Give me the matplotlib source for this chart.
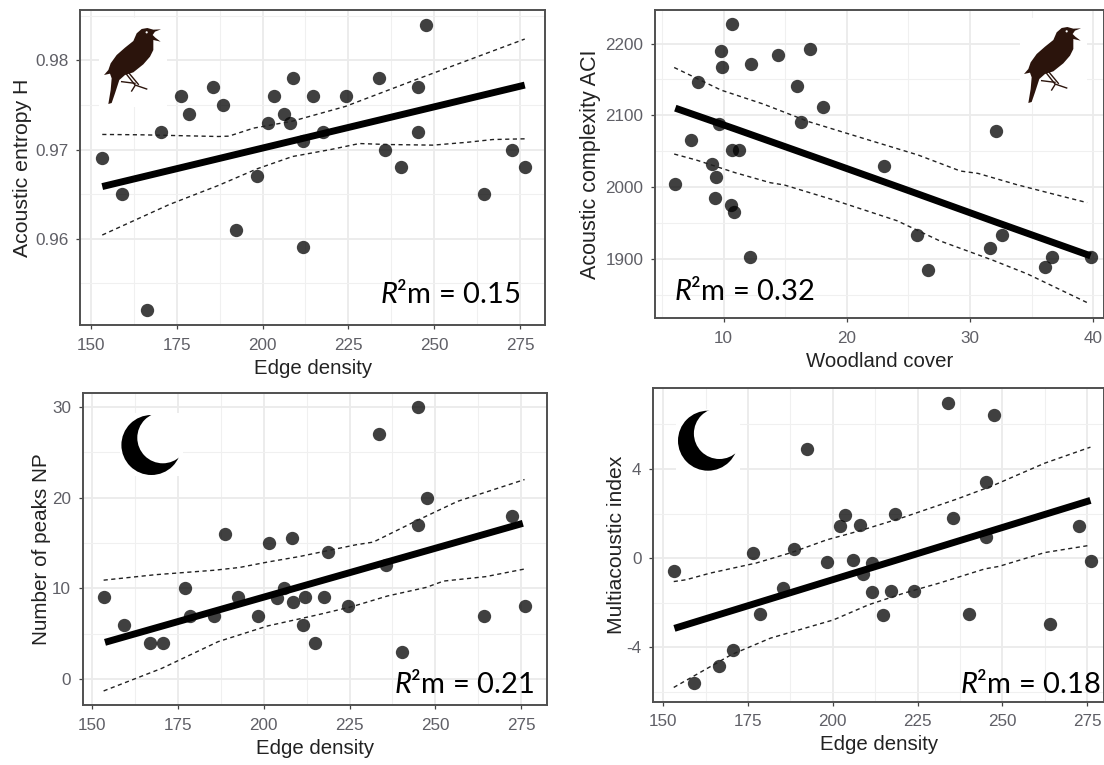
import matplotlib
matplotlib.use("Agg")
from matplotlib import pyplot as plt
from matplotlib.patches import Circle, Polygon, Rectangle
from matplotlib.ticker import FixedLocator

plt.rcParams['font.family'] = ['Liberation Sans', 'DejaVu Sans']
plt.rcParams['mathtext.fontset'] = 'custom'
plt.rcParams['mathtext.it'] = 'Lato:italic'
plt.rcParams['mathtext.rm'] = 'Lato'

W, H = 1104, 765

# panel A: acoustic entropy vs edge density
entropyX = [153.3, 159.1, 166.3, 170.5, 176.3, 178.6, 185.7, 188.6, 192.4, 198.3, 201.6, 203.3, 206.3, 208.0, 208.9,
            211.7, 211.7, 214.6, 217.6, 224.4, 233.9, 235.7, 240.4, 245.3, 245.3, 247.5, 264.4, 272.7, 276.5]
entropyY = [0.969, 0.965, 0.952, 0.972, 0.976, 0.974, 0.977, 0.975, 0.961, 0.967, 0.973, 0.976, 0.974, 0.973, 0.978,
            0.971, 0.959, 0.976, 0.972, 0.976, 0.978, 0.970, 0.968, 0.977, 0.972, 0.984, 0.965, 0.970, 0.968]
entropyFitX = [153.3, 276.4]
entropyFitY = [0.96584, 0.97723]
entropyUpX = [153.3, 164.6, 187.1, 190.2, 197.4, 208.7, 224.1, 244.6, 276.4]
entropyUpY = [0.97169, 0.97165, 0.97146, 0.9715, 0.9724, 0.97318, 0.97483, 0.97783, 0.9824]
entropyLoX = [153.3, 172.8, 187.1, 198.4, 208.7, 219.9, 228.2, 236.4, 249.7, 259.9, 267.1, 276.4]
entropyLoY = [0.9604, 0.96382, 0.96596, 0.96783, 0.96921, 0.97, 0.97067, 0.97056, 0.97049, 0.97082, 0.97112, 0.9712]

# panel B: acoustic complexity vs woodland cover
aciX = [6.06, 7.35, 7.9, 9.09, 9.43, 9.31, 9.6, 9.77, 9.89, 10.6, 10.69, 10.71, 10.83, 11.26, 12.11,
        12.23, 14.42, 15.94, 16.28, 16.99, 18.05, 23.05, 25.73, 26.56, 31.64, 32.12, 32.58, 36.06, 36.63, 39.8]
aciY = [2004, 2065, 2147, 2032, 2014, 1984, 2088, 2190, 2168, 1975, 2052, 2228, 1965, 2052, 1902,
        2172, 2184, 2141, 2091, 2192, 2111, 2030, 1933, 1884, 1915, 2078, 1933, 1888, 1902, 1902]
aciFitX = [6.09, 10.94, 18.08, 24.93, 32.35, 39.77]
aciFitY = [2110, 2081, 2037.5, 1995.5, 1949.5, 1904]
aciUpX = [6.0, 9.8, 13.23, 16.94, 21.79, 25.79, 29.21, 30.64, 33.78, 36.63, 39.49]
aciUpY = [2166.7, 2135.2, 2115.7, 2091, 2065.5, 2044.6, 2022.3, 2019, 2003.3, 1990.7, 1978.2]
aciLoX = [6.0, 7.8, 10.94, 13.8, 14.94, 18.94, 24.07, 27.5, 31.78, 34.64, 39.49]
aciLoY = [2046, 2037.6, 2020, 2006, 2002.8, 1981.9, 1953, 1925.2, 1898.3, 1878.8, 1838.8]

# panel C: number of peaks vs edge density
peaksX = [153.3, 159.3, 166.7, 170.7, 176.9, 178.5, 185.4, 188.6, 192.4, 198.4, 201.6, 203.8, 206.0, 208.1, 208.5,
          211.4, 211.9, 214.8, 217.5, 218.8, 224.4, 233.7, 235.5, 240.3, 245.0, 245.0, 247.6, 264.3, 272.3, 276.0]
peaksY = [9, 6, 4, 4, 10, 7, 7, 16, 9, 7, 15, 8.9, 10, 15.6, 8.5,
          6, 9, 4, 9, 14, 8, 27, 12.6, 3, 30, 17, 20, 7, 18, 8]
peaksFitX = [153.7, 275.5]
peaksFitY = [4.04, 17.17]
peaksUpX = [153.3, 168.3, 185.7, 192.9, 201.1, 210.3, 226.8, 231.9, 244.2, 256.5, 276]
peaksUpY = [10.9, 11.5, 12, 12.3, 12.9, 13.5, 14.8, 15.1, 17.4, 19.6, 22]
peaksLoX = [153.3, 170.3, 186.7, 201.1, 215.5, 225.7, 236, 247.3, 252.4, 264.7, 276]
peaksLoY = [-1.32, 1.18, 4.12, 5.85, 7.06, 7.98, 9.15, 10.1, 10.8, 11.29, 12.13]

# panel D: multiacoustic index vs edge density
multiX = [153.1, 159.1, 166.4, 170.5, 176.5, 178.6, 185.3, 188.6, 192.3, 198.3, 202.0, 203.6, 206.0, 208.0, 208.8,
          211.5, 211.6, 214.8, 217.3, 218.4, 224.1, 233.9, 235.4, 240.2, 245.2, 245.2, 247.6, 264.1, 272.5, 276.1]
multiY = [-0.58, -5.6, -4.83, -4.13, 0.25, -2.51, -1.35, 0.4, 4.9, -0.18, 1.42, 1.94, -0.07, 1.49, -0.72,
          -0.22, -1.54, -2.57, -1.46, 2, -1.46, 6.97, 1.82, -2.51, 3.42, 0.97, 6.4, -2.96, 1.42, -0.12]
multiFitX = [153.3, 276]
multiFitY = [-3.15, 2.59]
multiUpX = [153.1, 156.7, 163.9, 177.4, 187.8, 198.2, 205.4, 210.6, 221, 236.6, 247, 262.5, 276]
multiUpY = [-1.05, -0.97, -0.67, -0.22, 0.25, 0.82, 1.12, 1.35, 1.84, 2.65, 3.24, 4.26, 4.98]
multiLoX = [153.1, 170.1, 181.6, 200.2, 210.6, 221, 231.4, 244.9, 249, 262.5, 276]
multiLoY = [-5.8, -4.33, -3.59, -2.77, -2.09, -1.57, -1.12, -0.48, -0.37, 0.25, 0.58]

edgeTicks = [150, 175, 200, 225, 250, 275]
edgeMinor = [162.5, 187.5, 212.5, 237.5, 262.5]

fig = plt.figure(figsize=(W / 100, H / 100), dpi=100)


def make_panel(box, xlim, ylim, xticks, xminor, yticks, yminor, ylabels, xlabel, ylabel, scatter, fit, up, lo, ypad, ysize):
    left, top, right, bottom = box
    ax = fig.add_axes([left / W, 1 - bottom / H, (right - left) / W, (bottom - top) / H])
    ax.set_xlim(xlim)
    ax.set_ylim(ylim)
    ax.set_xticks(xticks)
    ax.set_yticks(yticks)
    ax.set_yticklabels(ylabels)
    ax.xaxis.set_minor_locator(FixedLocator(xminor))
    ax.yaxis.set_minor_locator(FixedLocator(yminor))
    ax.grid(which='major', color='#ebebeb', lw=1.3)
    ax.grid(which='minor', color='#f0f0f0', lw=0.8)
    ax.set_axisbelow(True)
    ax.tick_params(which='major', labelsize=12.3, labelcolor='#5f5f66', color='#444444', length=3, width=0.9)
    ax.tick_params(axis='x', which='major', pad=6)
    ax.tick_params(axis='y', which='major', pad=5.5)
    ax.tick_params(which='minor', length=0)
    for s in ax.spines.values():
        s.set_color('#505050')
        s.set_linewidth(1.4)
    ax.set_xlabel(xlabel, fontsize=14.7, color='#222222', labelpad=4.5)
    ax.set_ylabel(ylabel, fontsize=ysize, color='#222222', labelpad=ypad)
    ax.scatter(scatter[0], scatter[1], s=92, color='black', alpha=0.75, linewidths=0, zorder=3)
    ax.plot(fit[0], fit[1], color='black', lw=5, solid_capstyle='butt', zorder=4)
    ax.plot(up[0], up[1], color='#222222', lw=1.0, dashes=(3, 2.5), zorder=4)
    ax.plot(lo[0], lo[1], color='#222222', lw=1.0, dashes=(3, 2.5), zorder=4)
    return ax


def px_transform():
    # decorations and annotations are placed in picture pixels, y going down
    return matplotlib.transforms.Affine2D().scale(1 / W, -1 / H).translate(0, 1) + fig.transFigure


def draw_bird(dx, dy, patch):
    tr = px_transform()
    fig.add_artist(Rectangle((patch[0], patch[1]), patch[2], patch[3], transform=tr, color='white', lw=0))
    body = [(213, 43), (190, 44), (172, 39), (155, 42), (140, 55), (130, 78), (105, 98), (80, 120), (62, 145), (55, 165),
            (42, 180), (60, 176), (65, 190), (62, 225), (55, 267), (65, 264), (75, 235), (88, 195), (105, 180), (130, 172),
            (160, 148), (180, 125), (190, 105), (190, 75), (212, 80), (196, 68), (188, 60), (195, 50)]
    pts = [(x / 3 + 90 + dx, y / 3 + 15 + dy) for x, y in body]
    fig.add_artist(Polygon(pts, closed=True, transform=tr, color='#2b140c', lw=0))
    legs = [[(105, 172), (135, 210), (170, 222)], [(115, 172), (145, 208)], [(95, 200), (135, 205)], [(125, 228), (135, 212)]]
    for leg in legs:
        lx = [p[0] / 3 + 90 + dx for p in leg]
        ly = [p[1] / 3 + 15 + dy for p in leg]
        fig.add_artist(plt.Line2D(lx, ly, transform=tr, color='#2b140c', lw=1.0))
    fig.add_artist(Circle((170 / 3 + 90 + dx, 52 / 3 + 15 + dy), 1.1, transform=tr, color='white', lw=0))


def draw_moon(dx, dy):
    tr = px_transform()
    back = Rectangle((119.7 + dx, 413 + dy), 63.3, 63, transform=tr, color='white', lw=0)
    fig.add_artist(back)
    fig.add_artist(Circle((151.4 + dx, 445 + dy), 30, transform=tr, color='black', lw=0))
    cut = Circle((162.8 + dx, 437.8 + dy), 25.5, transform=tr, color='white', lw=0)
    fig.add_artist(cut)
    cut.set_clip_path(back)


make_panel((80.3, 10, 545, 325), (146.9, 282.3), (0.9503, 0.98566), edgeTicks, edgeMinor,
           [0.96, 0.97, 0.98], [0.955, 0.965, 0.975, 0.985], ['0.96', '0.97', '0.98'],
           'Edge density', 'Acoustic entropy H',
           (entropyX, entropyY), (entropyFitX, entropyFitY), (entropyUpX, entropyUpY), (entropyLoX, entropyLoY), 2.5, 15.3)
make_panel((655.2, 10, 1104, 318), (4.46, 40.86), (1817.3, 2246.9), [10, 20, 30, 40], [5, 15, 25, 35],
           [1900, 2000, 2100, 2200], [1850, 1950, 2050, 2150], ['1900', '2000', '2100', '2200'],
           'Woodland cover', 'Acoustic complexity ACI',
           (aciX, aciY), (aciFitX, aciFitY), (aciUpX, aciUpY), (aciLoX, aciLoY), 3, 15.5)
make_panel((82.7, 392.7, 546.5, 705), (147.2, 282.4), (-2.87, 31.58), edgeTicks, edgeMinor,
           [0, 10, 20, 30], [5, 15, 25], ['0', '10', '20', '30'],
           'Edge density', 'Number of peaks NP',
           (peaksX, peaksY), (peaksFitX, peaksFitY), (peaksUpX, peaksUpY), (peaksLoX, peaksLoY), 0.5, 14.9)
make_panel((653.4, 388.3, 1104, 701.7), (147.1, 280), (-6.44, 7.62), edgeTicks, edgeMinor,
           [-4, 0, 4], [-6, -2, 2, 6], ['-4', '0', '4'],
           'Edge density', 'Multiacoustic index',
           (multiX, multiY), (multiFitX, multiFitY), (multiUpX, multiUpY), (multiLoX, multiLoY), 0.5, 15.2)

draw_bird(0, 0, (98.6, 18, 68.4, 89))
draw_bird(920, -1, (1020, 18, 67, 85))
draw_moon(0, 0)
draw_moon(556.6, -4.3)

tr = px_transform()
for label, x, y in [('0.15', 380, 303), ('0.32', 673.5, 300), ('0.21', 393.6, 693.3), ('0.18', 959.7, 693)]:
    fig.text(x, y, r'$\mathit{R}$²m = ' + label, transform=tr, fontsize=21, family='Lato', color='black',
             ha='left', va='baseline')

fig.savefig('out.png', dpi=100)
